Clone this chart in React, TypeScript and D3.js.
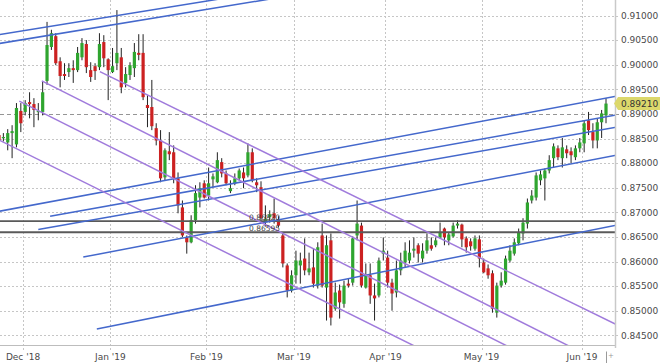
import React from 'react';
import * as d3 from 'd3';

// ---- data -----------------------------------------------------------------
const firstDay = '2018-11-23';
const lastDay = '2019-06-10';
const marketHolidays = ['2018-12-25', '2019-01-01'];

const opens = [
  0.8857, 0.8851, 0.8842, 0.8861, 0.8838, 0.8906,
  0.8904, 0.8924, 0.8920, 0.8904, 0.8904, 0.8967, 0.9036, 0.9058, 0.9007, 0.8981,
  0.8985, 0.8993, 0.8989, 0.9015, 0.9042, 0.8989, 0.8997, 0.8995, 0.9046, 0.9011,
  0.8985, 0.9003, 0.9015, 0.8963, 0.8979, 0.8993, 0.9024, 0.9024, 0.8918, 0.8914,
  0.8871, 0.8846, 0.8771, 0.8824, 0.8822, 0.8769, 0.8710, 0.8649, 0.8639, 0.8684,
  0.8730, 0.8759, 0.8734, 0.8767, 0.8761, 0.8802, 0.8779, 0.8743, 0.8759, 0.8769,
  0.8781, 0.8775, 0.8822, 0.8761, 0.8751, 0.8681, 0.8690, 0.8698, 0.8686, 0.8653,
  0.8592, 0.8541, 0.8572, 0.8592, 0.8606, 0.8578, 0.8588, 0.8551, 0.8653, 0.8547,
  0.8643, 0.8504, 0.8541, 0.8514, 0.8555, 0.8557, 0.8653, 0.8673, 0.8547, 0.8572,
  0.8531, 0.8531, 0.8616, 0.8608, 0.8557, 0.8537, 0.8582, 0.8598, 0.8602, 0.8622,
  0.8633, 0.8606, 0.8622, 0.8633, 0.8633, 0.8649, 0.8667, 0.8643, 0.8651, 0.8673,
  0.8675, 0.8647, 0.8641, 0.8626, 0.8645, 0.8598, 0.8586, 0.8576, 0.8496, 0.8551,
  0.8557, 0.8602, 0.8616, 0.8637, 0.8657, 0.8677, 0.8724, 0.8730, 0.8765, 0.8769,
  0.8785, 0.8810, 0.8830, 0.8810, 0.8828, 0.8824, 0.8812, 0.8830, 0.8840, 0.8887,
  0.8863, 0.8846, 0.8883, 0.8897,
];
const highs = [
  0.8867, 0.8861, 0.8869, 0.8877, 0.8922, 0.8922,
  0.8928, 0.8944, 0.8932, 0.8922, 0.8965, 0.9087, 0.9071, 0.9064, 0.9015, 0.9003,
  0.9003, 0.9009, 0.9036, 0.9054, 0.9050, 0.9005, 0.9003, 0.9064, 0.9060, 0.9013,
  0.9034, 0.9111, 0.9034, 0.8995, 0.9005, 0.9044, 0.9062, 0.9062, 0.8938, 0.8969,
  0.8881, 0.8867, 0.8830, 0.8863, 0.8836, 0.8781, 0.8724, 0.8653, 0.8694, 0.8755,
  0.8761, 0.8765, 0.8791, 0.8779, 0.8822, 0.8810, 0.8785, 0.8765, 0.8779, 0.8789,
  0.8791, 0.8840, 0.8830, 0.8769, 0.8763, 0.8714, 0.8704, 0.8728, 0.8692, 0.8659,
  0.8596, 0.8582, 0.8622, 0.8618, 0.8647, 0.8618, 0.8626, 0.8639, 0.8677, 0.8653,
  0.8657, 0.8557, 0.8553, 0.8561, 0.8565, 0.8651, 0.8724, 0.8679, 0.8596, 0.8596,
  0.8555, 0.8608, 0.8649, 0.8622, 0.8565, 0.8602, 0.8618, 0.8639, 0.8643, 0.8649,
  0.8637, 0.8637, 0.8657, 0.8649, 0.8649, 0.8679, 0.8669, 0.8659, 0.8679, 0.8684,
  0.8677, 0.8651, 0.8647, 0.8653, 0.8653, 0.8606, 0.8594, 0.8582, 0.8557, 0.8578,
  0.8612, 0.8633, 0.8647, 0.8667, 0.8688, 0.8728, 0.8745, 0.8781, 0.8785, 0.8789,
  0.8816, 0.8840, 0.8836, 0.8851, 0.8836, 0.8832, 0.8836, 0.8851, 0.8887, 0.8904,
  0.8881, 0.8891, 0.8908, 0.8932,
];
const lows = [
  0.8836, 0.8844, 0.8826, 0.8810, 0.8832, 0.8863,
  0.8897, 0.8891, 0.8873, 0.8887, 0.8897, 0.8959, 0.9030, 0.8999, 0.8954, 0.8969,
  0.8975, 0.8963, 0.8985, 0.9009, 0.8983, 0.8965, 0.8969, 0.8989, 0.8995, 0.8928,
  0.8983, 0.8989, 0.8942, 0.8954, 0.8969, 0.8975, 0.9009, 0.8928, 0.8873, 0.8867,
  0.8836, 0.8761, 0.8765, 0.8806, 0.8759, 0.8698, 0.8649, 0.8616, 0.8637, 0.8677,
  0.8710, 0.8728, 0.8724, 0.8751, 0.8759, 0.8771, 0.8755, 0.8739, 0.8755, 0.8765,
  0.8749, 0.8771, 0.8761, 0.8741, 0.8679, 0.8671, 0.8679, 0.8677, 0.8669, 0.8588,
  0.8527, 0.8537, 0.8555, 0.8555, 0.8572, 0.8572, 0.8547, 0.8545, 0.8547, 0.8480,
  0.8470, 0.8500, 0.8484, 0.8506, 0.8547, 0.8551, 0.8643, 0.8547, 0.8545, 0.8514,
  0.8480, 0.8527, 0.8602, 0.8547, 0.8500, 0.8527, 0.8572, 0.8588, 0.8596, 0.8608,
  0.8598, 0.8598, 0.8616, 0.8622, 0.8629, 0.8647, 0.8633, 0.8633, 0.8649, 0.8667,
  0.8629, 0.8618, 0.8622, 0.8622, 0.8588, 0.8576, 0.8565, 0.8496, 0.8486, 0.8547,
  0.8553, 0.8598, 0.8612, 0.8633, 0.8643, 0.8667, 0.8718, 0.8724, 0.8755, 0.8724,
  0.8779, 0.8791, 0.8806, 0.8791, 0.8810, 0.8800, 0.8806, 0.8822, 0.8822, 0.8857,
  0.8830, 0.8830, 0.8851, 0.8881,
];
const closes = [
  0.8846, 0.8853, 0.8861, 0.8865, 0.8912, 0.8881,
  0.8922, 0.8920, 0.8908, 0.8906, 0.8944, 0.9040, 0.9064, 0.9003, 0.8977, 0.8977,
  0.8993, 0.8989, 0.9024, 0.9044, 0.8995, 0.8975, 0.8987, 0.9042, 0.9013, 0.8989,
  0.8997, 0.9024, 0.8954, 0.8981, 0.8999, 0.9026, 0.9020, 0.8934, 0.8912, 0.8875,
  0.8846, 0.8769, 0.8826, 0.8818, 0.8769, 0.8714, 0.8653, 0.8639, 0.8684, 0.8739,
  0.8749, 0.8730, 0.8759, 0.8773, 0.8806, 0.8779, 0.8759, 0.8749, 0.8769, 0.8785,
  0.8769, 0.8822, 0.8765, 0.8755, 0.8688, 0.8686, 0.8696, 0.8688, 0.8673, 0.8596,
  0.8541, 0.8572, 0.8602, 0.8602, 0.8582, 0.8586, 0.8555, 0.8629, 0.8551, 0.8633,
  0.8486, 0.8537, 0.8517, 0.8551, 0.8551, 0.8647, 0.8677, 0.8551, 0.8572, 0.8531,
  0.8525, 0.8602, 0.8622, 0.8557, 0.8535, 0.8582, 0.8602, 0.8622, 0.8618, 0.8626,
  0.8616, 0.8622, 0.8643, 0.8626, 0.8643, 0.8659, 0.8649, 0.8655, 0.8673, 0.8677,
  0.8645, 0.8629, 0.8631, 0.8647, 0.8606, 0.8578, 0.8572, 0.8504, 0.8551, 0.8561,
  0.8606, 0.8622, 0.8639, 0.8659, 0.8679, 0.8720, 0.8734, 0.8775, 0.8777, 0.8785,
  0.8806, 0.8834, 0.8812, 0.8832, 0.8820, 0.8816, 0.8830, 0.8842, 0.8881, 0.8867,
  0.8846, 0.8883, 0.8901, 0.8921,
];

const priceTicks = [0.845, 0.85, 0.855, 0.86, 0.865, 0.87, 0.875, 0.88, 0.885, 0.89, 0.895, 0.9, 0.905, 0.91];
const lastPrice = 0.8921;
const dashedLevel = 0.89;
const levelPrices = [0.8682, 0.86595];
const levelLabels = ['0.86820', '0.86595'];

// trend lines: [start day index, start price, end day index, end price]
const blueLines: number[][] = [
  [0, 0.9061, 142, 0.9265],
  [0, 0.9043, 142, 0.9250],
  [0, 0.8702, 142, 0.8937],
  [11.7, 0.8692, 142, 0.8899],
  [9.0, 0.8665, 142, 0.8874],
  [19.3, 0.8609, 142, 0.8817],
  [22.4, 0.8463, 142, 0.8675],
];
const purpleLines: number[][] = [
  [23.1, 0.8986, 142, 0.8469],
  [9.8, 0.8967, 142, 0.8377],
  [4.65, 0.8926, 142, 0.8314],
  [0, 0.8847, 142, 0.8222],
];

// ---- helpers --------------------------------------------------------------
const parse = d3.timeParse('%Y-%m-%d');
const fmtDay = d3.timeFormat('%Y-%m-%d');
const fmtMonth = d3.timeFormat("%b '%y");

function tradingDays(): Date[] {
  const start = parse(firstDay) as Date;
  const end = d3.timeDay.offset(parse(lastDay) as Date, 1);
  return d3.timeDay
    .range(start, end)
    .filter((d) => d.getDay() !== 0 && d.getDay() !== 6 && !marketHolidays.includes(fmtDay(d)));
}

const FONT = "'DejaVu Sans', Verdana, sans-serif";

export default function App() {
  const W = 660;
  const H = 364;
  const plotR = 615.5;
  const plotB = 345.5;

  const days = tradingDays();
  const candles = days.map((d, i) => ({ date: d, o: opens[i], h: highs[i], l: lows[i], c: closes[i] }));

  const x = d3.scaleLinear().domain([0, days.length - 1]).range([-1, 606]);
  const step = x(1) - x(0);
  const y = d3.scaleLinear().domain([0.845, 0.91]).range([335.3, 15.5]);

  const monthStarts = days
    .map((d, i) => ({ d, i }))
    .filter(({ d, i }) => i > 0 && d.getMonth() !== days[i - 1].getMonth());

  const bodyW = 3.2;
  const lineGen = d3
    .line<number[]>()
    .x((p) => x(p[0]))
    .y((p) => y(p[1]));

  const priceFmt = d3.format('.5f');
  const ly = y(lastPrice);

  return (
    <svg
      width={W}
      height={H}
      style={{ position: 'absolute', left: 0, top: 0, background: '#fff' }}
      fontFamily={FONT}
    >
      <defs>
        <clipPath id="plot">
          <rect x={0} y={0} width={plotR} height={plotB} />
        </clipPath>
      </defs>
      <rect x={0} y={0} width={W} height={H} fill="#fff" />

      {/* horizontal grid */}
      {priceTicks.map((t) =>
        Math.abs(t - dashedLevel) < 1e-9 ? null : (
          <line
            key={'hg' + t}
            x1={0}
            x2={619}
            y1={Math.round(y(t)) + 0.5}
            y2={Math.round(y(t)) + 0.5}
            stroke="#c6c6c6"
            strokeDasharray="2,2"
          />
        )
      )}
      {/* vertical grid */}
      {monthStarts.map(({ i }) => {
        const gx = Math.round(x(i) - step / 2) + 0.5;
        return (
          <line key={'vg' + i} x1={gx} x2={gx} y1={0} y2={352} stroke="#c6c6c6" strokeDasharray="2,2" />
        );
      })}

      {/* dashed reference level */}
      <line
        x1={0}
        x2={619}
        y1={Math.round(y(dashedLevel)) + 0.5}
        y2={Math.round(y(dashedLevel)) + 0.5}
        stroke="#959595"
        strokeDasharray="4,3"
      />

      <g clipPath="url(#plot)">
        {/* candles */}
        {candles.map((c, i) => {
          const cx = x(i);
          const up = c.c >= c.o;
          const top = y(Math.max(c.o, c.c));
          const bot = y(Math.min(c.o, c.c));
          return (
            <g key={fmtDay(c.date)}>
              <line x1={cx} x2={cx} y1={y(c.h)} y2={y(c.l)} stroke="#222" strokeWidth={1} />
              <rect
                x={cx - bodyW / 2}
                y={top}
                width={bodyW}
                height={Math.max(1.2, bot - top)}
                fill={up ? '#2fa52f' : '#cc2121'}
              />
            </g>
          );
        })}

        {/* horizontal levels */}
        {levelPrices.map((p) => (
          <line key={'lv' + p} x1={0} x2={plotR} y1={y(p)} y2={y(p)} stroke="#5a5a5a" strokeWidth={1.8} />
        ))}

        {/* trend lines */}
        {blueLines.map((l, k) => (
          <path
            key={'b' + k}
            d={lineGen([[l[0], l[1]], [l[2], l[3]]]) as string}
            fill="none"
            stroke="#4468cc"
            strokeWidth={1.5}
          />
        ))}
        {purpleLines.map((l, k) => (
          <path
            key={'p' + k}
            d={lineGen([[l[0], l[1]], [l[2], l[3]]]) as string}
            fill="none"
            stroke="#a07bdc"
            strokeWidth={1.5}
          />
        ))}

        {levelPrices.map((p, k) => (
          <text key={'lt' + p} x={249} y={y(p) - 1.5} fontSize={7.5} fill="#444">
            {levelLabels[k]}
          </text>
        ))}
      </g>

      {/* axes */}
      <line x1={0} x2={plotR} y1={plotB} y2={plotB} stroke="#bdbdbd" />
      <line x1={plotR} x2={plotR} y1={0} y2={348} stroke="#c9c9c9" strokeWidth={1.5} />

      {/* y tick labels */}
      {priceTicks.map((t) => (
        <text key={'yt' + t} x={621} y={y(t)} dy="0.36em" fontSize={9} fill="#4a4a4a">
          {priceFmt(t)}
        </text>
      ))}

      {/* last price badge */}
      <path
        d={`M614,${ly} L618,${ly - 6.5} L660,${ly - 6.5} L660,${ly + 6.5} L618,${ly + 6.5} Z`}
        fill="#dcd86c"
      />
      <text x={621} y={ly} dy="0.36em" fontSize={9} fill="#333">
        {priceFmt(lastPrice)}
      </text>

      {/* x tick labels */}
      {monthStarts.map(({ d, i }) => (
        <text
          key={'xt' + i}
          x={x(i) - step / 2}
          y={359.5}
          textAnchor="middle"
          fontSize={9}
          fill="#4a4a4a"
        >
          {fmtMonth(d)}
        </text>
      ))}

      {/* small corner widgets */}
      <line x1={606.5} x2={606.5} y1={351.5} y2={363} stroke="#9a9a9a" />
      <text x={611} y={358} textAnchor="middle" fontSize={7} fill="#9a9a9a">
        +
      </text>
    </svg>
  );
}
